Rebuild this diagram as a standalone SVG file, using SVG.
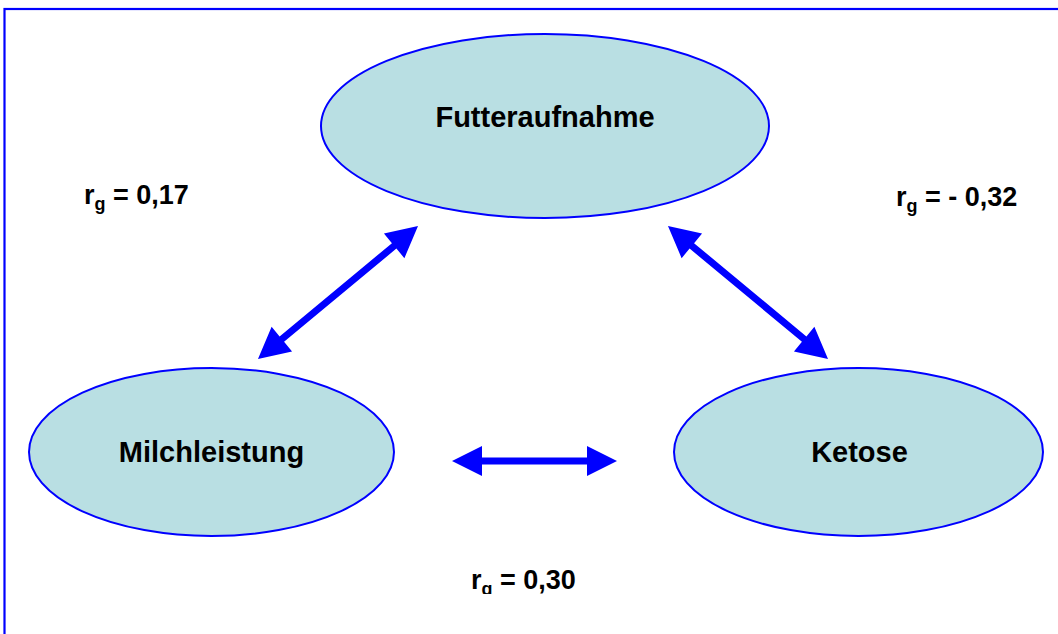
<svg xmlns="http://www.w3.org/2000/svg" width="1058" height="634" viewBox="0 0 1058 634">
  <style>
    .node { fill: #B9DFE3; stroke: #0000FF; stroke-width: 2; }
    .name { font-family: "Liberation Sans", Arial, sans-serif; font-weight: bold; font-size: 29px; fill: #000; text-anchor: middle; }
    .lbl { font-family: "Liberation Sans", Arial, sans-serif; font-weight: bold; font-size: 27px; fill: #000; }
    .sub { font-size: 18px; }
    .arrow { fill: #0000FF; }
  </style>
  <defs>
    <clipPath id="clipBottom"><rect x="0" y="0" width="1058" height="594"/></clipPath>
  </defs>
  <rect x="4.5" y="9" width="1100" height="700" fill="#FFFFFF" stroke="#0000FF" stroke-width="2.2"/>

  <g id="connectors">
    <path class="arrow" transform="translate(338 292.5) rotate(-39.7)" d="M -104 0 L -73 -16 L -73 -3.5 L 73 -3.5 L 73 -16 L 104 0 L 73 16 L 73 3.5 L -73 3.5 L -73 16 Z"/>
    <path class="arrow" transform="translate(748 292.5) rotate(39.7)" d="M -104 0 L -73 -16 L -73 -3.5 L 73 -3.5 L 73 -16 L 104 0 L 73 16 L 73 3.5 L -73 3.5 L -73 16 Z"/>
    <path class="arrow" transform="translate(534.5 461)" d="M -82.5 0 L -52.5 -15 L -52.5 -3.5 L 52.5 -3.5 L 52.5 -15 L 82.5 0 L 52.5 15 L 52.5 3.5 L -52.5 3.5 L -52.5 15 Z"/>
  </g>

  <g id="node-futteraufnahme">
    <ellipse class="node" cx="545" cy="126" rx="224" ry="92"/>
    <text class="name" x="545" y="127">Futteraufnahme</text>
  </g>
  <g id="node-milchleistung">
    <ellipse class="node" cx="211.5" cy="452" rx="182.5" ry="84"/>
    <text class="name" x="211.5" y="462">Milchleistung</text>
  </g>
  <g id="node-ketose">
    <ellipse class="node" cx="858.5" cy="452" rx="184.5" ry="84"/>
    <text class="name" x="859.5" y="462">Ketose</text>
  </g>

  <g id="label-left">
    <text class="lbl" x="84" y="204">r<tspan class="sub" dy="6">g</tspan><tspan dy="-6"> = 0,17</tspan></text>
  </g>
  <g id="label-right">
    <text class="lbl" x="896" y="206">r<tspan class="sub" dy="6">g</tspan><tspan dy="-6"> = - 0,32</tspan></text>
  </g>
  <g id="label-bottom" clip-path="url(#clipBottom)">
    <text class="lbl" x="471" y="589">r<tspan class="sub" dy="6">g</tspan><tspan dy="-6"> = 0,30</tspan></text>
  </g>
</svg>
